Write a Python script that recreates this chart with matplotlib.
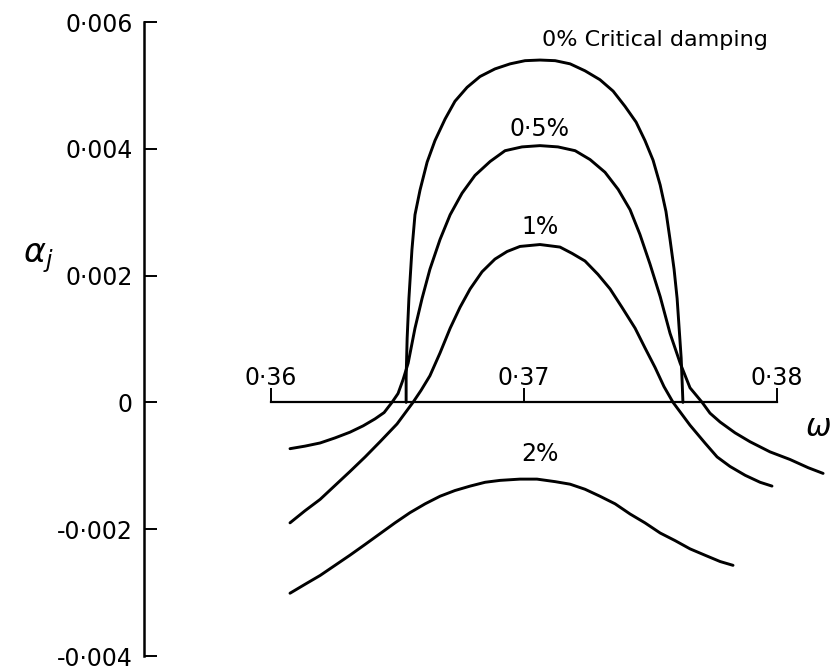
import numpy as np
import matplotlib.pyplot as plt

plt.rcParams['font.family'] = ['DejaVu Sans']

# omega values and alpha_j values
w_0 = [0.36534, 0.36534, 0.36538, 0.36545, 0.36557, 0.36569, 0.36589, 0.36617, 0.36648,
       0.36688, 0.36727, 0.36775, 0.36826, 0.36885, 0.36945, 0.37004, 0.37063, 0.37123,
       0.37182, 0.37241, 0.37300, 0.37352, 0.37399, 0.37443, 0.37478, 0.37510, 0.37538,
       0.37561, 0.37577, 0.37593, 0.37605, 0.37613, 0.37621, 0.37625, 0.37628]
a_0 = [0.0, 0.00039, 0.00101, 0.00164, 0.00241, 0.00296, 0.00335, 0.00379, 0.00413,
       0.00447, 0.00475, 0.00497, 0.00514, 0.00526, 0.00534, 0.00539, 0.00540, 0.00539,
       0.00534, 0.00523, 0.00509, 0.00491, 0.00467, 0.00442, 0.00413, 0.00382, 0.00343,
       0.00301, 0.00257, 0.00210, 0.00164, 0.00117, 0.00070, 0.00031, 0.0]

w_05 = [0.36075, 0.36134, 0.36194, 0.36253, 0.36312, 0.36364, 0.36411, 0.36447, 0.36478,
        0.36502, 0.36522, 0.36542, 0.36569, 0.36597, 0.36628, 0.36668, 0.36708, 0.36755,
        0.36806, 0.36866, 0.36925, 0.36992, 0.37063, 0.37134, 0.37202, 0.37261, 0.37320,
        0.37372, 0.37419, 0.37458, 0.37498, 0.37538, 0.37577, 0.37617, 0.37656, 0.37704,
        0.37735, 0.37775, 0.37834, 0.37893, 0.37972, 0.38051, 0.38123, 0.38182]
a_05 = [-0.00073, -0.00069, -0.00064, -0.00056, -0.00047, -0.00037, -0.00026, -0.00016, 0.0,
        0.00014, 0.00036, 0.00062, 0.00117, 0.00164, 0.00210, 0.00257, 0.00296, 0.00330,
        0.00358, 0.00380, 0.00397, 0.00403, 0.00405, 0.00403, 0.00397, 0.00383, 0.00363,
        0.00336, 0.00304, 0.00265, 0.00218, 0.00167, 0.00109, 0.00062, 0.00023, 0.0,
        -0.00017, -0.00031, -0.00048, -0.00062, -0.00078, -0.00090, -0.00103, -0.00112]

w_1 = [0.36075, 0.36134, 0.36194, 0.36253, 0.36312, 0.36372, 0.36431, 0.36498, 0.36561,
       0.36593, 0.36628, 0.36668, 0.36708, 0.36747, 0.36787, 0.36834, 0.36885, 0.36933,
       0.36984, 0.37063, 0.37142, 0.37190, 0.37241, 0.37292, 0.37340, 0.37387, 0.37439,
       0.37478, 0.37518, 0.37553, 0.37589, 0.37656, 0.37715, 0.37763, 0.37814, 0.37874,
       0.37933, 0.37980]
a_1 = [-0.00190, -0.00171, -0.00153, -0.00131, -0.00109, -0.00086, -0.00062, -0.00034, 0.0,
       0.00019, 0.00042, 0.00078, 0.00117, 0.00150, 0.00179, 0.00206, 0.00226, 0.00238,
       0.00246, 0.00249, 0.00245, 0.00235, 0.00223, 0.00202, 0.00179, 0.00150, 0.00117,
       0.00086, 0.00055, 0.00025, 0.0, -0.00036, -0.00064, -0.00086, -0.00101, -0.00115,
       -0.00126, -0.00132]

w_2 = [0.36075, 0.36134, 0.36194, 0.36253, 0.36312, 0.36372, 0.36431, 0.36490, 0.36549,
       0.36609, 0.36668, 0.36727, 0.36787, 0.36846, 0.36905, 0.36984, 0.37051, 0.37123,
       0.37182, 0.37241, 0.37300, 0.37360, 0.37419, 0.37478, 0.37538, 0.37597, 0.37656,
       0.37715, 0.37775, 0.37826]
a_2 = [-0.00301, -0.00287, -0.00273, -0.00257, -0.00241, -0.00224, -0.00207, -0.00190,
       -0.00174, -0.00160, -0.00148, -0.00139, -0.00132, -0.00126, -0.00123, -0.00121,
       -0.00121, -0.00125, -0.00129, -0.00137, -0.00148, -0.00160, -0.00176, -0.00190,
       -0.00206, -0.00218, -0.00231, -0.00241, -0.00251, -0.00257]

x_ticks = [0.36, 0.37, 0.38]
x_labels = ['0·36', '0·37', '0·38']
y_ticks = [-0.004, -0.002, 0, 0.002, 0.004, 0.006]
y_labels = ['-0·004', '-0·002', '0', '0·002', '0·004', '0·006']

fig = plt.figure(figsize=(8.35, 6.72), dpi=100)
ax = fig.add_axes([144/835, 1 - 656/672, 691/835, 634/672])
ax.set_xlim(0.35498, 0.38229)
ax.set_ylim(-0.004, 0.006)

for w, a in [(w_0, a_0), (w_05, a_05), (w_1, a_1), (w_2, a_2)]:
    ax.plot(w, a, color='black', lw=2.1, solid_capstyle='round', solid_joinstyle='round')

# left spine full height, x axis drawn along alpha = 0
ax.spines['right'].set_visible(False)
ax.spines['bottom'].set_visible(False)
ax.spines['left'].set_linewidth(1.8)
ax.spines['left'].set_bounds(-0.004, 0.006)
ax.spines['top'].set_position(('data', 0))
ax.spines['top'].set_bounds(0.36, 0.38)
ax.spines['top'].set_linewidth(1.6)

ax.xaxis.tick_top()
ax.set_xticks(x_ticks)
ax.set_xticklabels(x_labels)
ax.tick_params(axis='x', direction='out', length=10, width=1.4, labelsize=17, pad=-1)
ax.set_yticks(y_ticks)
ax.set_yticklabels(y_labels)
ax.tick_params(axis='y', direction='in', length=9, width=1.4, labelsize=17, pad=8)

ax.text(0.37518, 0.00572, '0% Critical damping', fontsize=16, ha='center', va='center')
ax.text(0.37063, 0.00431, '0·5%', fontsize=17, ha='center', va='center')
ax.text(0.37063, 0.00276, '1%', fontsize=17, ha='center', va='center')
ax.text(0.37063, -0.00081, '2%', fontsize=17, ha='center', va='center')
ax.text(0.38162, -0.00039, r'$\omega$', fontsize=22, ha='center', va='center')
fig.text(38/835, 1 - 258/672, r'$\alpha_j$', fontsize=24, ha='center', va='center')

fig.savefig('out.png', dpi=100)
